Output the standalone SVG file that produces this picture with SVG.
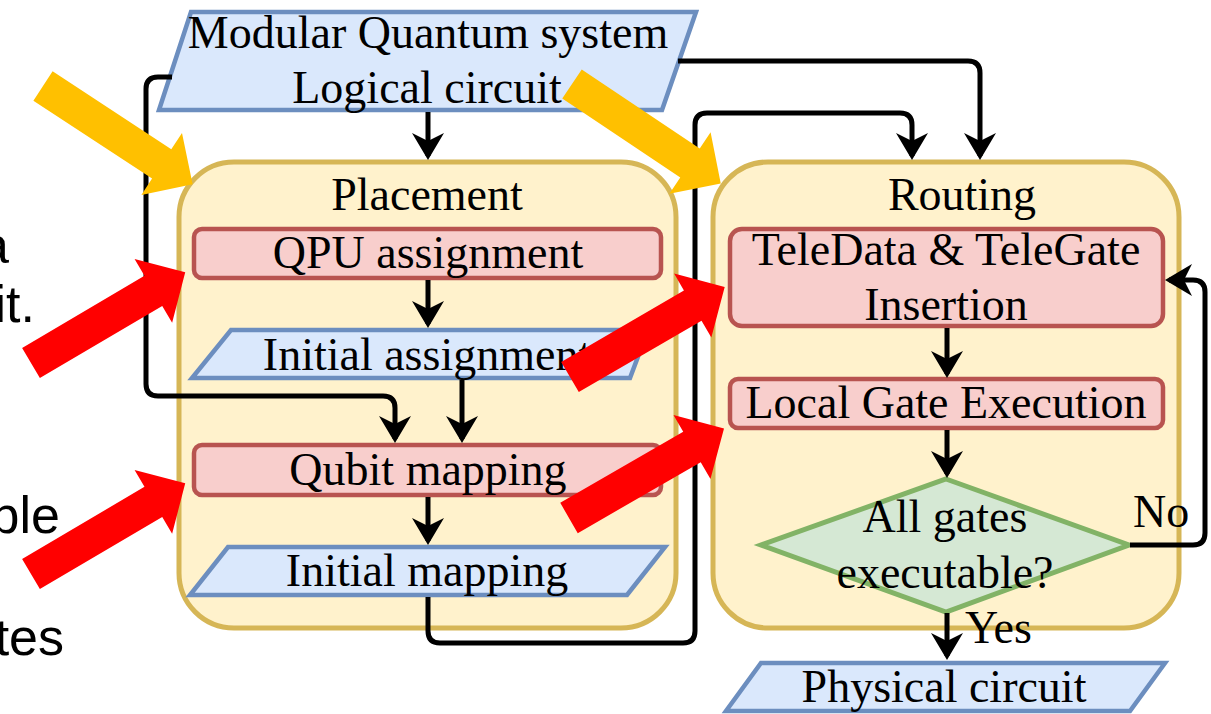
<svg xmlns="http://www.w3.org/2000/svg" width="1211" height="714" viewBox="0 0 1211 714">
  <defs>
    <style>
      .t { font-family: "Liberation Serif", "Times New Roman", serif; font-size: 46px; fill: #000; text-anchor: middle; }
      .lbl { font-family: "Liberation Serif", "Times New Roman", serif; font-size: 46px; fill: #000; }
      .side { font-family: "Liberation Sans", Arial, sans-serif; font-size: 52px; fill: #000; text-anchor: end; }
      .container { fill: #fff2cc; stroke: #d6b656; stroke-width: 5; }
      .proc { fill: #f8cecc; stroke: #b85450; stroke-width: 4.5; }
      .io { fill: #dae8fc; stroke: #6c8ebf; stroke-width: 4.5; stroke-linejoin: miter; }
      .dec { fill: #d5e8d4; stroke: #82b366; stroke-width: 5; }
      .edge { fill: none; stroke: #000; stroke-width: 5; marker-end: url(#head); }
    </style>
    <marker id="head" markerUnits="userSpaceOnUse" markerWidth="30" markerHeight="34" refX="23" refY="17" orient="auto">
      <path d="M0,1 L27,17 L0,33 L8,17 Z" fill="#000"/>
    </marker>
    <!-- block arrow pointing along +x, tail centred on the origin -->
    <polygon id="block" points="0,-17.5 142,-17.5 142,-37 179,0 142,37 142,17.5 0,17.5"/>
  </defs>

  <rect width="1211" height="714" fill="#ffffff"/>

  <!-- side text, running off the left edge -->
  <g id="side-text">
    <text class="side" x="9" y="263">a</text>
    <text class="side" x="35" y="322">it.</text>
    <text class="side" x="60" y="533">ble</text>
    <text class="side" x="64" y="655">tes</text>
  </g>

  <!-- containers -->
  <g id="placement">
    <rect class="container" x="179" y="162" width="497" height="466" rx="55" ry="55"/>
    <text class="t" x="427" y="210">Placement</text>
  </g>
  <g id="routing">
    <rect class="container" x="713" y="162" width="466" height="466" rx="55" ry="55"/>
    <text class="t" x="962" y="210">Routing</text>
  </g>

  <!-- nodes -->
  <g id="input">
    <polygon class="io" points="191,12 696,12 662,110 159,110"/>
    <text class="t" x="428" y="48">Modular Quantum system</text>
    <text class="t" x="427" y="103">Logical circuit</text>
  </g>
  <g id="qpu-assignment">
    <rect class="proc" x="194" y="229" width="467" height="49" rx="8" ry="8"/>
    <text class="t" x="428" y="268">QPU assignment</text>
  </g>
  <g id="initial-assignment">
    <polygon class="io" points="231,330 648,330 630,378 192,378"/>
    <text class="t" x="427" y="370">Initial assignment</text>
  </g>
  <g id="qubit-mapping">
    <rect class="proc" x="194" y="445" width="467" height="50" rx="8" ry="8"/>
    <text class="t" x="428" y="485">Qubit mapping</text>
  </g>
  <g id="initial-mapping">
    <polygon class="io" points="228,547 665,547 627,595 190,595"/>
    <text class="t" x="427" y="586">Initial mapping</text>
  </g>
  <g id="teledata">
    <rect class="proc" x="730" y="229" width="433" height="97" rx="12" ry="12"/>
    <text class="t" x="946" y="265">TeleData &amp; TeleGate</text>
    <text class="t" x="946" y="320">Insertion</text>
  </g>
  <g id="local-gate">
    <rect class="proc" x="730" y="379" width="433" height="49" rx="8" ry="8"/>
    <text class="t" x="946" y="418">Local Gate Execution</text>
  </g>
  <g id="all-gates">
    <polygon class="dec" points="946,479 1129,545 946,612 761,545"/>
    <text class="t" x="945" y="532">All gates</text>
    <text class="t" x="945" y="588">executable?</text>
  </g>
  <g id="physical-circuit">
    <polygon class="io" points="761,663 1165,663 1130,711 726,711"/>
    <text class="t" x="944" y="702">Physical circuit</text>
  </g>

  <!-- connectors -->
  <g id="connectors">
    <path class="edge" d="M428,112 V156"/>
    <path class="edge" d="M172,77 H158 Q146,77 146,89 V384 Q146,396 158,396 H383 Q395,396 395,408 V439"/>
    <path class="edge" d="M678,61 H968 Q980,61 980,73 V156"/>
    <path class="edge" d="M428,597 V631 Q428,643 440,643 H683 Q695,643 695,631 V125 Q695,113 707,113 H900 Q912,113 912,125 V156"/>
    <path class="edge" d="M428,280 V324"/>
    <path class="edge" d="M462,380 V439"/>
    <path class="edge" d="M428,497 V541"/>
    <path class="edge" d="M947,328 V374"/>
    <path class="edge" d="M947,430 V474"/>
    <path class="edge" d="M947,613 V656"/>
    <path class="edge" d="M1130,545 H1193 Q1205,545 1205,533 V292 Q1205,280 1193,280 H1169"/>
    <text class="lbl" x="1133" y="527">No</text>
    <text class="lbl" x="965" y="643">Yes</text>
  </g>

  <!-- highlight arrows -->
  <g id="highlights">
    <use href="#block" fill="#ffc000" transform="translate(43,86) rotate(33.3)"/>
    <use href="#block" fill="#ffc000" transform="translate(572,84) rotate(33.8)"/>
    <use href="#block" fill="#ff0000" transform="translate(31,363) rotate(-30.5)"/>
    <use href="#block" fill="#ff0000" transform="translate(31,574) rotate(-30.5)"/>
    <use href="#block" fill="#ff0000" transform="translate(570,377) rotate(-30.2)"/>
    <use href="#block" fill="#ff0000" transform="translate(569,518) rotate(-30)"/>
  </g>
</svg>
